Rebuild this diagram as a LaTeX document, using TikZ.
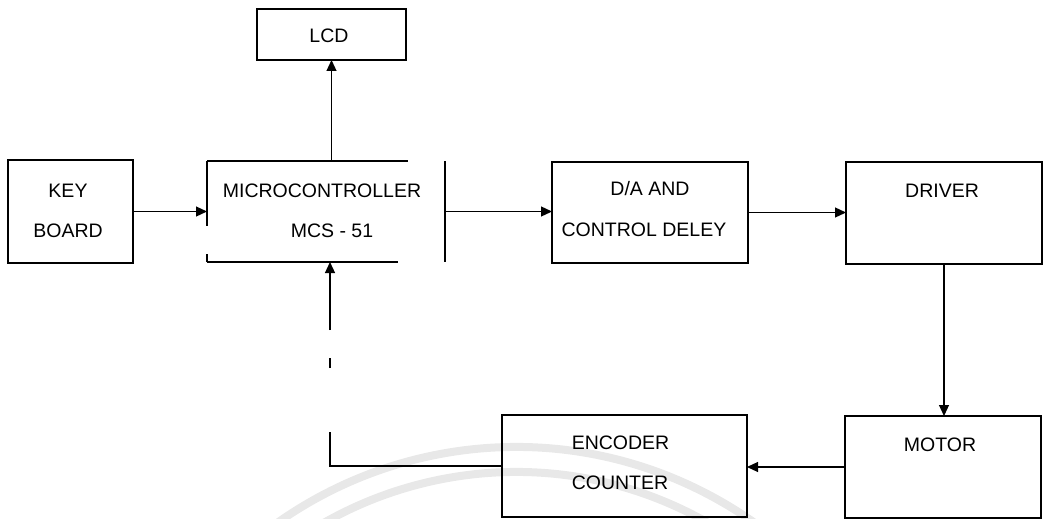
\documentclass[tikz,border=0pt]{standalone}
\usepackage{fontspec}
\setmainfont{Liberation Sans}
\usetikzlibrary{arrows.meta}
\begin{document}
\begin{tikzpicture}[x=1pt,y=-1pt,
  blk/.style={draw, line width=1.2pt, minimum width=#1, inner sep=0pt, outer sep=0pt},
  lab/.style={anchor=base, inner sep=0pt, font=\fontsize{19.5}{23}\selectfont},
  wire/.style={line width=1.2pt},
  arr/.style={wire, -{Triangle[length=11pt,width=10pt]}},
  wm/.style={line width=8pt, draw=black!9}]
\useasboundingbox (0,0) rectangle (1047,519);
% faint watermark arcs
\begin{scope}
\clip (0,0) rectangle (1047,519);
\draw[wm] (516,860) ++(210:413) arc[start angle=210, end angle=330, radius=413];
\draw[wm] (516,860) ++(210:388) arc[start angle=210, end angle=330, radius=388];
\end{scope}
% blocks
\node[blk=149pt, minimum height=51pt] (lcd) at (331.5,34.5) {};
\node[blk=125pt, minimum height=103pt] (kb) at (70.5,211.5) {};
\node[minimum width=238pt, minimum height=101pt, inner sep=0pt, outer sep=0pt] (mc) at (326,211.5) {};
\node[blk=196pt, minimum height=101pt] (da) at (650,212.5) {};
\node[blk=196pt, minimum height=102pt] (drv) at (944,213) {};
\node[blk=196pt, minimum height=102pt] (mot) at (943,467) {};
\node[blk=245pt, minimum height=102pt] (enc) at (624.5,466) {};
% broken outline of the microcontroller block
\draw[wire] (mc.north west) -- ++(201,0);
\draw[wire] (mc.north east) -- (mc.south east);
\draw[wire] (mc.south west) -- ++(191,0);
\draw[wire] (mc.north west) -- ++(0,65);
\draw[wire] (mc.south west) -- ++(0,-8);
% texts
\node[lab] (tlcd) at (329,43) {LCD};
\node[lab] (tkey) at (68,197) {KEY};
\node[lab] (tboard) at (68,237) {BOARD};
\node[lab] (tmc1) at (322,197) {MICROCONTROLLER};
\node[lab] (tmc2) at (332,237) {MCS - 51};
\node[lab] (tda1) at (650,195) {D/A AND};
\node[lab] (tda2) at (644,236) {CONTROL DELEY};
\node[lab] (tdrv) at (942,197) {DRIVER};
\node[lab] (tmot) at (940,451) {MOTOR};
\node[lab] (tenc1) at (620.5,449) {ENCODER};
\node[lab] (tenc2) at (620,489) {COUNTER};
% connectors
\draw[arr] (kb.east) -- (mc.west);
\draw[arr] (mc.north -| lcd.south) -- (lcd.south);
\draw[arr] (mc.east) -- (mc.east -| da.west);
\draw[arr] (da.east) -- (da.east -| drv.west);
\draw[arr] (drv.south) -- (drv.south |- mot.north);
\draw[arr] (mot.west) -- (mot.west -| enc.east);
\coordinate (fbtop) at ([xshift=4pt]mc.south);
\draw[wire, dash pattern=on 206pt off 64pt on 10pt off 28pt on 60pt] (enc.west) -| (fbtop);
\draw[arr] ([yshift=-20pt]fbtop) -- (fbtop);
\end{tikzpicture}
\end{document}
